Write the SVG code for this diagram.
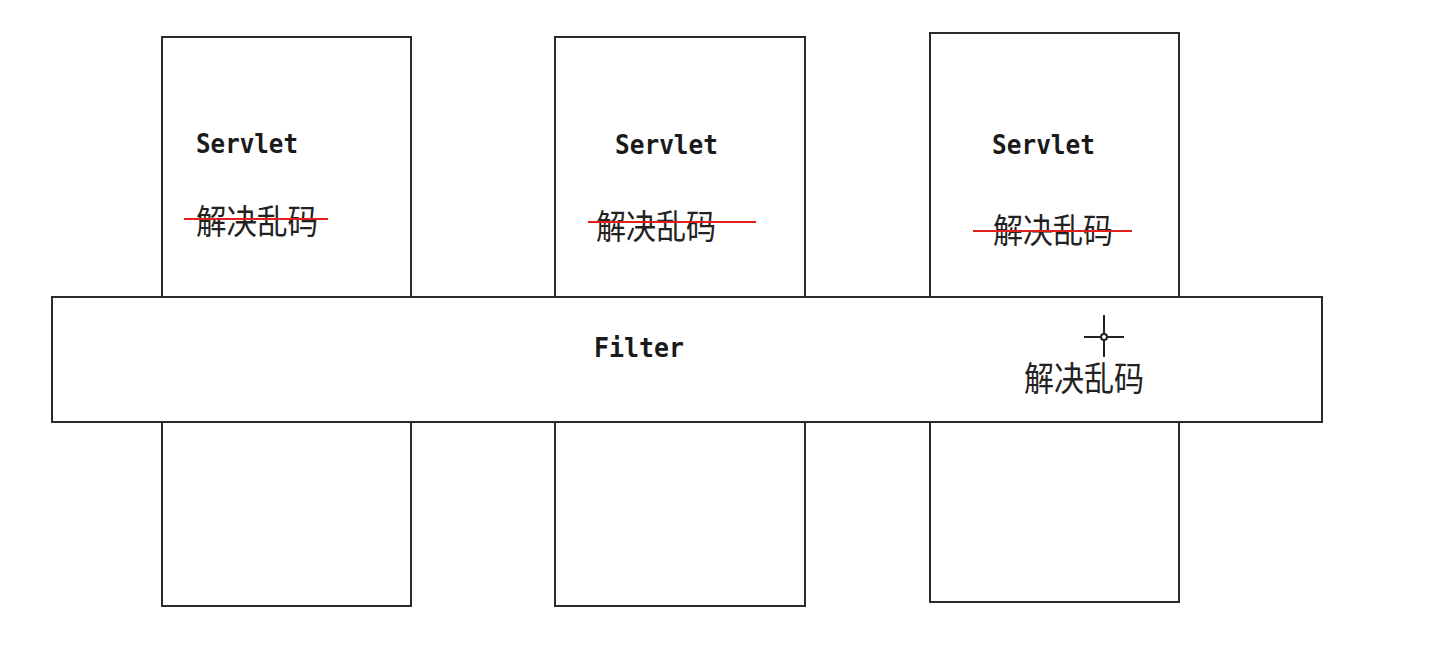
<svg xmlns="http://www.w3.org/2000/svg" width="1454" height="652" viewBox="0 0 1454 652">
<style>
.box{fill:#fff;stroke:#2b2b2b;stroke-width:2}
.lbl{font-family:"DejaVu Sans Mono","Liberation Mono",monospace;font-weight:bold;font-size:27px;fill:#1a1a1a}
.cjk{font-family:"Noto Sans CJK SC","Noto Sans CJK JP",sans-serif;font-size:34px;fill:#222}
.strike{stroke:#e0201c;stroke-width:2}
.cur{stroke:#222;stroke-width:2;fill:none}
</style>
<rect width="1454" height="652" fill="#fff"/>
<g id="servlet1">
<rect class="box" x="162" y="37" width="249" height="569"/>
<text class="lbl" x="196" y="153" textLength="102" lengthAdjust="spacingAndGlyphs">Servlet</text>
<text class="cjk" x="196" y="234" textLength="122" lengthAdjust="spacingAndGlyphs">解决乱码</text>
<line class="strike" x1="184" y1="219" x2="328" y2="219"/>
</g>
<g id="servlet2">
<rect class="box" x="555" y="37" width="250" height="569"/>
<text class="lbl" x="615" y="154" textLength="103" lengthAdjust="spacingAndGlyphs">Servlet</text>
<text class="cjk" x="596" y="239" textLength="120" lengthAdjust="spacingAndGlyphs">解决乱码</text>
<line class="strike" x1="588" y1="222" x2="756" y2="222"/>
</g>
<g id="servlet3">
<rect class="box" x="930" y="33" width="249" height="569"/>
<text class="lbl" x="992" y="154" textLength="103" lengthAdjust="spacingAndGlyphs">Servlet</text>
<text class="cjk" x="993" y="243" textLength="120" lengthAdjust="spacingAndGlyphs">解决乱码</text>
<line class="strike" x1="973" y1="231" x2="1132" y2="231"/>
</g>
<g id="filter">
<rect class="box" x="52" y="297" width="1270" height="125"/>
<text class="lbl" x="594" y="357" textLength="90" lengthAdjust="spacingAndGlyphs">Filter</text>
<text class="cjk" x="1024" y="391" textLength="120" lengthAdjust="spacingAndGlyphs">解决乱码</text>
</g>
<g id="cursor">
<line class="cur" x1="1084" y1="337" x2="1101" y2="337"/>
<line class="cur" x1="1107" y1="337" x2="1124" y2="337"/>
<line class="cur" x1="1104" y1="315" x2="1104" y2="334"/>
<line class="cur" x1="1104" y1="340" x2="1104" y2="357"/>
<circle class="cur" cx="1104" cy="337" r="3"/>
</g>
<g id="connectors"></g>
</svg>
